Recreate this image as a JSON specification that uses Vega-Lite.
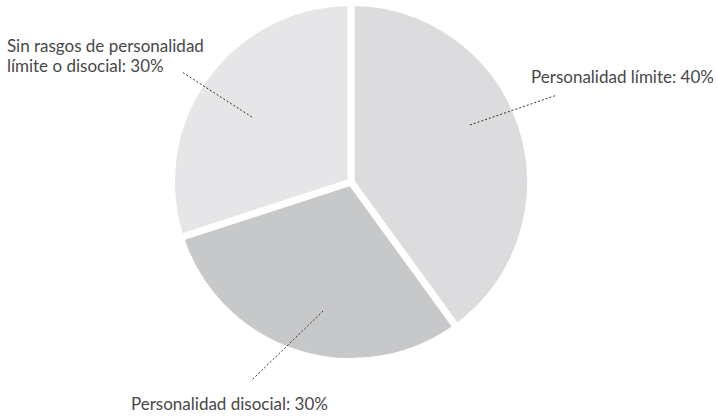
{
  "$schema": "https://vega.github.io/schema/vega-lite/v6.json",
  "width": 718,
  "height": 416,
  "padding": 0,
  "autosize": {"type": "none"},
  "background": "white",
  "config": {"view": {"stroke": null}},
  "datasets": {
    "sectores": [
      {"categoria": "Personalidad límite", "porcentaje": 40, "orden": 1},
      {"categoria": "Personalidad disocial", "porcentaje": 30, "orden": 2},
      {"categoria": "Sin rasgos de personalidad límite o disocial", "porcentaje": 30, "orden": 3}
    ],
    "guias": [
      {"categoria": "Personalidad límite", "x1": 67.6, "y1": 32.4, "x2": 117.0, "y2": 49.4},
      {"categoria": "Personalidad disocial", "x1": -15.9, "y1": -73.3, "x2": -56.3, "y2": -112.5},
      {"categoria": "Sin rasgos de personalidad límite o disocial", "x1": -56.3, "y1": 36.9, "x2": -96.0, "y2": 62.5}
    ],
    "etiquetas": [
      {"texto": "Personalidad límite: 40%", "x": 102.3, "y": 56.3},
      {"texto": "Personalidad disocial: 30%", "x": -125.0, "y": -129.5},
      {"texto": "Sin rasgos de personalidad\nlímite o disocial: 30%", "x": -195.5, "y": 73.9}
    ]
  },
  "layer": [
    {
      "data": {"name": "sectores"},
      "mark": {"type": "arc", "outerRadius": 179.5, "stroke": "white", "strokeWidth": 7, "strokeJoin": "miter"},
      "encoding": {
        "theta": {"field": "porcentaje", "type": "quantitative", "stack": true},
        "order": {"field": "orden", "type": "quantitative"},
        "color": {
          "field": "categoria",
          "type": "nominal",
          "scale": {
            "domain": ["Personalidad límite", "Personalidad disocial", "Sin rasgos de personalidad límite o disocial"],
            "range": ["#dcdcde", "#c7c8ca", "#e6e6e8"]
          },
          "legend": null
        },
        "x": {"datum": 0, "type": "quantitative", "scale": {"domain": [-199.43, 208.52], "nice": false, "zero": false}, "axis": null},
        "y": {"datum": 0, "type": "quantitative", "scale": {"domain": [-132.95, 103.41], "nice": false, "zero": false}, "axis": null}
      }
    },
    {
      "data": {"name": "guias"},
      "mark": {"type": "rule", "strokeDash": [2, 2], "color": "#333333", "strokeWidth": 1},
      "encoding": {
        "x": {"field": "x1", "type": "quantitative", "axis": null},
        "y": {"field": "y1", "type": "quantitative", "axis": null},
        "x2": {"field": "x2"},
        "y2": {"field": "y2"}
      }
    },
    {
      "data": {"name": "etiquetas"},
      "mark": {"type": "text", "align": "left", "baseline": "alphabetic", "font": "Lato", "fontSize": 17, "color": "#474747", "lineBreak": "\n", "lineHeight": 20},
      "encoding": {
        "x": {"field": "x", "type": "quantitative", "axis": null},
        "y": {"field": "y", "type": "quantitative", "axis": null},
        "text": {"field": "texto", "type": "nominal"}
      }
    }
  ]
}
